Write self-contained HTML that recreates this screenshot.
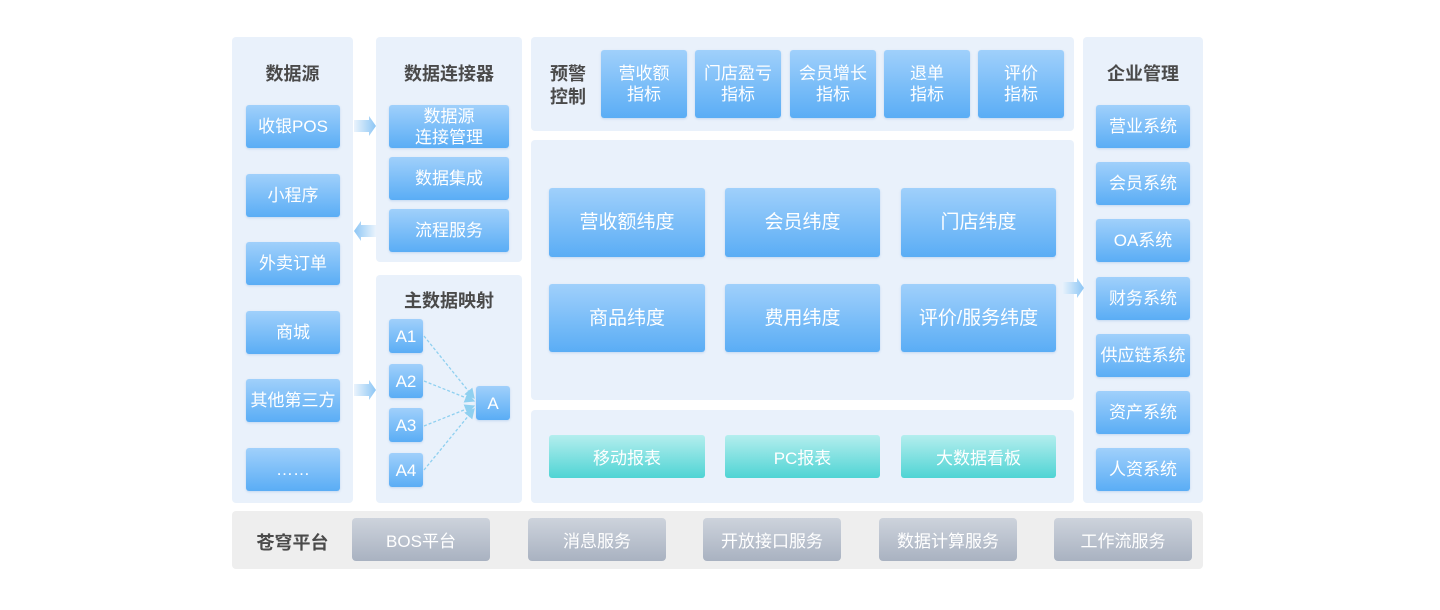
<!DOCTYPE html>
<html><head><meta charset="utf-8"><style>
*{margin:0;padding:0;box-sizing:border-box}
body{width:1440px;height:610px;background:#fff;position:relative;overflow:hidden;font-family:"Liberation Sans","Noto Sans CJK SC",sans-serif}
.p{position:absolute;background:#e9f1fb;border-radius:4px}
.b{position:absolute;background:linear-gradient(#a0d0fb,#5aadf5);border-radius:3px;color:#fff;font-size:17px;display:flex;align-items:center;justify-content:center;text-align:center;line-height:21px;box-shadow:0 1px 2px rgba(80,140,210,.25)}
.t{position:absolute;background:linear-gradient(#b4eeee,#4fd4d4);border-radius:3px;color:#fff;font-size:17px;display:flex;align-items:center;justify-content:center}
.g{position:absolute;background:linear-gradient(#cdd3dc,#a9b2c1);border-radius:4px;color:#fff;font-size:17px;display:flex;align-items:center;justify-content:center}
.h{position:absolute;color:#4a4a4a;font-weight:bold;font-size:18px;text-align:center}
.ar{position:absolute;width:22px;height:20px}
</style></head><body>
<div class="p" style="left:232px;top:37px;width:121px;height:466px"></div>
<div class="p" style="left:376px;top:37px;width:146px;height:225px"></div>
<div class="p" style="left:376px;top:275px;width:146px;height:228px"></div>
<div class="p" style="left:531px;top:37px;width:543px;height:94px"></div>
<div class="p" style="left:531px;top:140px;width:543px;height:260px"></div>
<div class="p" style="left:531px;top:410px;width:543px;height:93px"></div>
<div class="p" style="left:1083px;top:37px;width:120px;height:466px"></div>
<div class="p" style="left:232px;top:511px;width:971px;height:58px;background:#eeeeee"></div>

<div class="h" style="left:232px;top:60px;width:121px">数据源</div>
<div class="h" style="left:376px;top:60px;width:146px">数据连接器</div>
<div class="h" style="left:376px;top:287px;width:146px">主数据映射</div>
<div class="h" style="left:1083px;top:60px;width:120px">企业管理</div>
<div class="h" style="left:543px;top:63px;width:50px;line-height:23px">预警<br>控制</div>
<div class="h" style="left:250px;top:529px;width:85px">苍穹平台</div>

<div class="b" style="left:246px;top:105px;width:94px;height:43px">收银POS</div>
<div class="b" style="left:246px;top:174px;width:94px;height:43px">小程序</div>
<div class="b" style="left:246px;top:242px;width:94px;height:43px">外卖订单</div>
<div class="b" style="left:246px;top:311px;width:94px;height:43px">商城</div>
<div class="b" style="left:246px;top:379px;width:94px;height:43px">其他第三方</div>
<div class="b" style="left:246px;top:448px;width:94px;height:43px">……</div>

<div class="b" style="left:389px;top:105px;width:120px;height:43px">数据源<br>连接管理</div>
<div class="b" style="left:389px;top:157px;width:120px;height:43px">数据集成</div>
<div class="b" style="left:389px;top:209px;width:120px;height:43px">流程服务</div>

<div class="b" style="left:389px;top:319px;width:34px;height:34px">A1</div>
<div class="b" style="left:389px;top:364px;width:34px;height:34px">A2</div>
<div class="b" style="left:389px;top:408px;width:34px;height:34px">A3</div>
<div class="b" style="left:389px;top:453px;width:34px;height:34px">A4</div>
<div class="b" style="left:476px;top:386px;width:34px;height:34px">A</div>
<svg style="position:absolute;left:0;top:0" width="1440" height="610">
<defs><marker id="m" markerWidth="8" markerHeight="8" refX="7" refY="4" orient="auto"><path d="M0,0L8,4L0,8z" fill="#8fd0f0"/></marker></defs>
<g stroke="#8fd0f0" stroke-width="1.3" stroke-dasharray="3,2" fill="none" marker-end="url(#m)">
<line x1="424" y1="336" x2="474" y2="398"/>
<line x1="424" y1="381" x2="474" y2="401"/>
<line x1="424" y1="426" x2="474" y2="406"/>
<line x1="424" y1="470" x2="474" y2="409"/>
</g></svg>

<svg class="ar" style="left:354px;top:116px" viewBox="0 0 22 20"><defs><linearGradient id="r"><stop offset="0" stop-color="#eaf3fc"/><stop offset="1" stop-color="#8cc6f5"/></linearGradient><linearGradient id="l"><stop offset="0" stop-color="#8cc6f5"/><stop offset="1" stop-color="#eaf3fc"/></linearGradient></defs><path d="M0,4H15V0L22,10L15,20V16H0z" fill="url(#r)"/></svg>
<svg class="ar" style="left:354px;top:221px" viewBox="0 0 22 20"><path d="M22,4H7V0L0,10L7,20V16H22z" fill="url(#l)"/></svg>
<svg class="ar" style="left:354px;top:380px" viewBox="0 0 22 20"><path d="M0,4H15V0L22,10L15,20V16H0z" fill="url(#r)"/></svg>
<svg class="ar" style="left:1062px;top:278px" viewBox="0 0 22 20"><path d="M0,4H15V0L22,10L15,20V16H0z" fill="url(#r)"/></svg>

<div class="b" style="left:601px;top:50px;width:86px;height:68px">营收额<br>指标</div>
<div class="b" style="left:695px;top:50px;width:86px;height:68px">门店盈亏<br>指标</div>
<div class="b" style="left:790px;top:50px;width:86px;height:68px">会员增长<br>指标</div>
<div class="b" style="left:884px;top:50px;width:86px;height:68px">退单<br>指标</div>
<div class="b" style="left:978px;top:50px;width:86px;height:68px">评价<br>指标</div>

<div class="b" style="left:549px;top:188px;width:156px;height:69px;font-size:19px">营收额纬度</div>
<div class="b" style="left:725px;top:188px;width:155px;height:69px;font-size:19px">会员纬度</div>
<div class="b" style="left:901px;top:188px;width:155px;height:69px;font-size:19px">门店纬度</div>
<div class="b" style="left:549px;top:284px;width:156px;height:68px;font-size:19px">商品纬度</div>
<div class="b" style="left:725px;top:284px;width:155px;height:68px;font-size:19px">费用纬度</div>
<div class="b" style="left:901px;top:284px;width:155px;height:68px;font-size:19px">评价/服务纬度</div>

<div class="t" style="left:549px;top:435px;width:156px;height:43px">移动报表</div>
<div class="t" style="left:725px;top:435px;width:155px;height:43px">PC报表</div>
<div class="t" style="left:901px;top:435px;width:155px;height:43px">大数据看板</div>

<div class="b" style="left:1096px;top:105px;width:94px;height:43px">营业系统</div>
<div class="b" style="left:1096px;top:162px;width:94px;height:43px">会员系统</div>
<div class="b" style="left:1096px;top:219px;width:94px;height:43px">OA系统</div>
<div class="b" style="left:1096px;top:277px;width:94px;height:43px">财务系统</div>
<div class="b" style="left:1096px;top:334px;width:94px;height:43px">供应链系统</div>
<div class="b" style="left:1096px;top:391px;width:94px;height:43px">资产系统</div>
<div class="b" style="left:1096px;top:448px;width:94px;height:43px">人资系统</div>

<div class="g" style="left:352px;top:518px;width:138px;height:43px">BOS平台</div>
<div class="g" style="left:528px;top:518px;width:138px;height:43px">消息服务</div>
<div class="g" style="left:703px;top:518px;width:138px;height:43px">开放接口服务</div>
<div class="g" style="left:879px;top:518px;width:138px;height:43px">数据计算服务</div>
<div class="g" style="left:1054px;top:518px;width:138px;height:43px">工作流服务</div>
</body></html>
